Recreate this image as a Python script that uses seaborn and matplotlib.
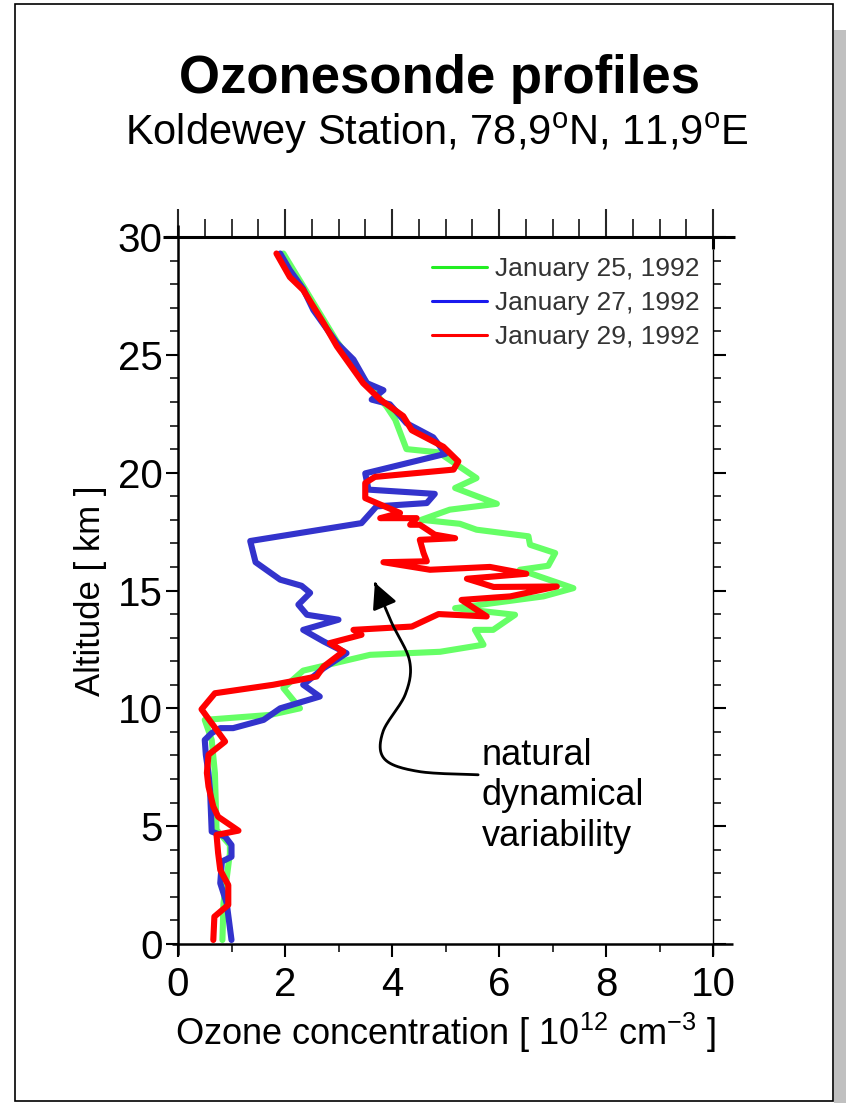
import numpy as np
import pandas as pd
import matplotlib
matplotlib.use("Agg")
import matplotlib.pyplot as plt
import seaborn as sns
from matplotlib.lines import Line2D
from matplotlib.patches import Rectangle, FancyArrowPatch
from matplotlib.path import Path
from matplotlib.ticker import MultipleLocator

# ---- ozonesonde profiles (ozone in 1e12 cm^-3, altitude in km) ----
dates = ["January 25, 1992", "January 27, 1992", "January 29, 1992"]

alt_jan25 = [0.17, 1.73, 3.85, 4.2, 4.84, 7.25, 8.66, 9.51, 9.72, 10.0,
             10.86, 11.6, 12.27, 12.4, 12.7, 13.33, 13.33, 13.97, 14.25, 14.75,
             15.1, 15.88, 16.05, 16.59, 16.94, 17.3, 17.58, 17.83, 18.0, 18.43,
             18.68, 19.35, 19.77, 20.86, 21.0, 22.25, 22.8, 23.9, 25.6, 29.3]
oz_jan25 = [0.83, 0.85, 0.97, 0.97, 0.72, 0.69, 0.63, 0.50, 1.72, 2.28,
            1.97, 2.34, 3.59, 4.9, 5.71, 5.55, 5.89, 6.30, 5.18, 6.83,
            7.39, 6.39, 6.92, 7.05, 6.58, 6.55, 5.58, 5.27, 4.55, 5.08,
            5.96, 5.18, 5.58, 4.87, 4.27, 4.06, 3.9, 3.5, 2.96, 1.97]

alt_jan27 = [0.17, 1.73, 2.58, 3.5, 3.7, 4.2, 4.56, 4.77, 6.5, 7.25,
             8.03, 8.66, 8.95, 9.16, 9.16, 9.51, 10.0, 10.5, 11.0, 11.7,
             12.34, 12.84, 13.33, 13.76, 13.97, 14.4, 14.9, 15.2, 15.46, 16.2,
             17.1, 17.86, 18.57, 18.71, 19.1, 19.28, 19.97, 20.8, 21.5, 22.1,
             22.9, 23.1, 23.5, 23.8, 24.8, 25.5, 26.9, 27.8, 28.6, 29.3]
oz_jan27 = [1.0, 0.91, 0.79, 0.82, 1.0, 1.0, 0.88, 0.63, 0.6, 0.57,
            0.52, 0.50, 0.63, 0.79, 1.03, 1.6, 1.91, 2.65, 2.34, 2.72,
            3.15, 2.72, 2.34, 3.0, 2.41, 2.25, 2.47, 2.31, 1.91, 1.45,
            1.35, 3.43, 3.71, 4.65, 4.8, 3.56, 3.5, 5.0, 4.77, 4.27,
            3.96, 3.62, 3.84, 3.53, 3.28, 2.97, 2.53, 2.34, 2.09, 1.91]

alt_jan29 = [0.17, 1.16, 1.66, 2.5, 3.14, 3.86, 4.63, 4.81, 5.4, 5.83,
             6.68, 7.26, 8.03, 8.59, 9.96, 10.64, 11.0, 11.24, 11.35, 11.77,
             12.41, 12.77, 13.12, 13.33, 13.47, 14.0, 13.9, 14.6, 14.75, 15.17,
             15.15, 15.5, 15.71, 16.0, 15.88, 16.2, 16.24, 16.59, 17.15, 17.22,
             17.37, 17.79, 17.79, 18.07, 18.07, 18.29, 18.92, 19.56, 19.82, 20.13,
             20.48, 21.1, 21.8, 22.4, 23.1, 23.8, 25.36, 26.35, 27.75, 28.3, 29.3]
oz_jan29 = [0.66, 0.68, 0.94, 0.94, 0.79, 0.75, 0.72, 1.13, 0.75, 0.66,
            0.57, 0.54, 0.57, 0.88, 0.44, 0.69, 1.78, 2.34, 2.59, 2.72,
            3.09, 2.84, 3.43, 3.28, 4.37, 4.87, 5.77, 5.30, 6.21, 7.08,
            5.9, 5.4, 6.51, 5.83, 4.71, 3.84, 4.65, 4.59, 4.52, 5.18,
            4.80, 4.52, 4.34, 4.46, 3.78, 4.15, 3.5, 3.5, 3.68, 5.15,
            5.24, 4.96, 4.37, 4.21, 3.78, 3.46, 2.97, 2.72, 2.34, 2.09, 1.84]

line_colors = ["#66FF66", "#3333CC", "#FF0000"]
legend_colors = ["#22EE22", "#1A1AEE", "#FF0000"]

x_ticks = [0, 2, 4, 6, 8, 10]
y_ticks = [0, 5, 10, 15, 20, 25, 30]

frames = []
for d, oz, alt in zip(dates, [oz_jan25, oz_jan27, oz_jan29],
                      [alt_jan25, alt_jan27, alt_jan29]):
    frames.append(pd.DataFrame({"date": d, "ozone": oz, "altitude": alt}))
profiles = pd.concat(frames, ignore_index=True)

# ---- style ----
sns.set_theme(style="white")
plt.rcParams["font.family"] = ["Liberation Sans", "DejaVu Sans"]
plt.rcParams["mathtext.fontset"] = "custom"
plt.rcParams["mathtext.rm"] = "Liberation Sans"
plt.rcParams["mathtext.it"] = "Liberation Sans:italic"
plt.rcParams["mathtext.bf"] = "Liberation Sans:bold"

W, H = 846, 1103
fig = plt.figure(figsize=(W / 100, H / 100), dpi=100)
fig.patch.set_facecolor("white")

# slide frame with drop shadow on the right
fig.patches.append(Rectangle((834 / W, 0), 12 / W, (H - 30) / H,
                             transform=fig.transFigure, facecolor="#C0C0C0",
                             edgecolor="none", zorder=0))
fig.patches.append(Rectangle((15 / W, 2 / H), (833 - 15) / W, (1101 - 4) / H,
                             transform=fig.transFigure, fill=False,
                             edgecolor="black", linewidth=1.2, zorder=1))

ax = fig.add_axes([178 / W, 159 / H, 535 / W, 707 / H])
ax.set_facecolor("none")

sns.lineplot(data=profiles, x="ozone", y="altitude", hue="date",
             hue_order=dates, palette=line_colors, sort=False,
             estimator=None, linewidth=4.4, legend=False, ax=ax)

ax.set_xlim(0, 10)
ax.set_ylim(0, 30)

# ---- ticks ----
ax.set_xticks(x_ticks)
ax.set_xticklabels([str(v) for v in x_ticks])
ax.xaxis.set_minor_locator(MultipleLocator(1))
ax.set_yticks(y_ticks)
ax.set_yticklabels([str(v) for v in y_ticks])
ax.yaxis.set_minor_locator(MultipleLocator(1))

ax.tick_params(axis="both", which="major", direction="out", length=9,
               width=1.5, color="black", labelsize=29, labelcolor="black")
ax.tick_params(axis="both", which="minor", direction="out", length=6,
               width=1.1, color="black")
ax.tick_params(axis="x", which="both", bottom=True, top=False, pad=7)
ax.tick_params(axis="y", which="both", left=True, right=True, pad=2)

top = ax.secondary_xaxis("top")
top.set_xticks(x_ticks)
top.xaxis.set_minor_locator(MultipleLocator(0.5))
top.tick_params(which="major", direction="out", length=20, width=1.5,
                labeltop=False)
top.tick_params(which="minor", direction="out", length=13, width=1.3)
for s in top.spines.values():
    s.set_visible(False)

for s in ax.spines.values():
    s.set_visible(False)

# axis lines, the top and bottom ones running past the plot box
spine_kw = dict(transform=ax.transAxes, clip_on=False, color="black",
                solid_capstyle="butt")
ax.add_line(Line2D([-0.028, 1.041], [1, 1], linewidth=2.2, **spine_kw))
ax.add_line(Line2D([-0.011, 1.037], [0, 0], linewidth=1.8, **spine_kw))
ax.add_line(Line2D([0, 0], [-0.016, 1.017], linewidth=1.8, **spine_kw))
ax.add_line(Line2D([1, 1], [0.983, 1.0], linewidth=2.2, **spine_kw))
ax.add_line(Line2D([1, 1], [-0.016, 0.983], linewidth=1.0, **spine_kw))

ax.set_xlabel("Ozone concentration [ 10$^{12}$ cm$^{-3}$ ]", fontsize=26,
              labelpad=5, color="black")
ax.set_ylabel("Altitude [ km ]", fontsize=25, labelpad=8, color="black")

# ---- legend ----
handles = [Line2D([], [], color=c, linewidth=2.2) for c in legend_colors]
leg = ax.legend(handles, dates, loc="upper right",
                bbox_to_anchor=(0.975, 0.972), frameon=False, fontsize=19,
                handlelength=2.1, handletextpad=0.3, labelspacing=0.38,
                borderaxespad=0, borderpad=0)
for t in leg.get_texts():
    t.set_color("#333333")

# ---- annotation: curved arrow into the spread between profiles ----
def catmull_rom(points, n=24):
    P = np.asarray(points, dtype=float)
    P = np.vstack([P[0], P, P[-1]])
    segs = []
    t = np.linspace(0, 1, n, endpoint=False)[:, None]
    for i in range(1, len(P) - 2):
        p0, p1, p2, p3 = P[i - 1], P[i], P[i + 1], P[i + 2]
        segs.append(0.5 * (2 * p1 + (-p0 + p2) * t
                           + (2 * p0 - 5 * p1 + 4 * p2 - p3) * t ** 2
                           + (-p0 + 3 * p1 - 3 * p2 + p3) * t ** 3))
    segs.append(P[-2][None])
    return np.vstack(segs)

arrow_route = [(5.61, 7.18), (4.5, 7.32), (3.86, 7.85), (3.83, 9.0),
               (4.25, 10.6), (4.33, 12.0), (4.0, 13.6), (3.68, 15.33)]
curve = catmull_rom(arrow_route)
arrow = FancyArrowPatch(path=Path(curve), arrowstyle="-|>,head_length=0.7,head_width=0.35",
                        mutation_scale=22, linewidth=2.0, color="black",
                        transform=ax.transData, zorder=5)
ax.add_patch(arrow)

ax.text(5.68, 8.75, "natural\ndynamical\nvariability", fontsize=26,
        ha="left", va="top", color="black", linespacing=1.2)

# ---- headings ----
fig.text(439 / W, 1 - 93 / H, "Ozonesonde profiles", fontsize=38,
         fontweight="bold", ha="center", va="baseline", color="black")
fig.text(437 / W, 1 - 145 / H,
         "Koldewey Station, 78,9$^{\\mathrm{o}}$N, 11,9$^{\\mathrm{o}}$E",
         fontsize=30, ha="center", va="baseline", color="black")

fig.savefig("out.png", dpi=100, facecolor="white")
